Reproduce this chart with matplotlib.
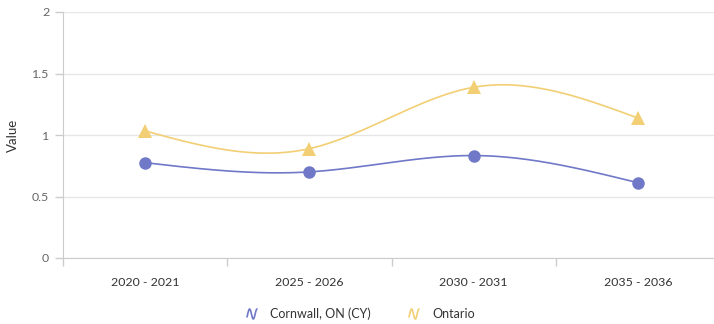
import matplotlib
matplotlib.use("Agg")
import matplotlib.pyplot as plt
import numpy as np

plt.rcParams['font.family'] = ['Lato', 'DejaVu Sans']

categories = ["2020 - 2021", "2025 - 2026", "2030 - 2031", "2035 - 2036"]
cornwall = [0.775, 0.70, 0.833, 0.612]
ontario = [1.033, 0.889, 1.388, 1.138]
series_names = ["Cornwall, ON (CY)", "Ontario"]
colors = ["#7078c8", "#f2cf74"]
yticks = [0, 0.5, 1, 1.5, 2]
yticklabels = ["0", "0.5", "1", "1.5", "2"]


def natural_spline(xs, ys, num=60):
    xs = np.asarray(xs, float)
    ys = np.asarray(ys, float)
    n = len(xs)
    h = np.diff(xs)
    A = np.zeros((n, n))
    b = np.zeros(n)
    A[0, 0] = 1
    A[-1, -1] = 1
    for i in range(1, n - 1):
        A[i, i - 1] = h[i - 1]
        A[i, i] = 2 * (h[i - 1] + h[i])
        A[i, i + 1] = h[i]
        b[i] = 6 * ((ys[i + 1] - ys[i]) / h[i] - (ys[i] - ys[i - 1]) / h[i - 1])
    M = np.linalg.solve(A, b)
    outx, outy = [], []
    for i in range(n - 1):
        t = np.linspace(xs[i], xs[i + 1], num)
        a = xs[i + 1] - t
        c = t - xs[i]
        hi = h[i]
        s = (M[i] * a ** 3 / (6 * hi) + M[i + 1] * c ** 3 / (6 * hi)
             + (ys[i] / hi - M[i] * hi / 6) * a + (ys[i + 1] / hi - M[i + 1] * hi / 6) * c)
        outx.extend(t)
        outy.extend(s)
    return np.array(outx), np.array(outy)


fig = plt.figure(figsize=(7.14, 3.24), dpi=100)
ax = fig.add_axes([63 / 714, 66 / 324, 657 / 714, 246 / 324])
ax.set_xlim(-0.5, 3.5)
ax.set_ylim(0, 2)

x = np.arange(len(categories))
for vals, col, mk, ms in [(cornwall, colors[0], 'o', 9), (ontario, colors[1], '^', 10)]:
    sx, sy = natural_spline(x, vals)
    ax.plot(sx, sy, color=col, lw=1.2, zorder=3, solid_capstyle='round')
    ax.plot(x, vals, linestyle='none', marker=mk, color=col, markersize=ms, zorder=4,
            markeredgewidth=0)

ax.set_yticks(yticks)
ax.set_yticklabels(yticklabels)
ax.grid(axis='y', color='#e6e6e6', lw=1)
ax.set_axisbelow(True)
ax.set_xticks(x)
ax.set_xticklabels(categories)
ax.set_xticks(np.arange(-0.5, 4, 1), minor=True)
ax.tick_params(axis='x', which='major', length=0, pad=14, labelsize=8.9, labelcolor='#333333')
ax.tick_params(axis='x', which='minor', length=6, color='#cccccc', width=1)
ax.tick_params(axis='y', length=6, color='#cccccc', width=1, labelsize=8.9,
               labelcolor='#666666', pad=4)
for s in ['top', 'right']:
    ax.spines[s].set_visible(False)
ax.spines['left'].set_color('#cccccc')
ax.spines['bottom'].set_color('#cccccc')
ax.set_ylabel("Value", fontsize=9.5, color='#333333', labelpad=9)


def legend_icon(x0, y0, col):
    th = np.linspace(0.3 * np.pi, 3.0 * np.pi, 40)
    t = (th - th[0]) / (th[-1] - th[0])
    xs = x0 + t * 10
    ys = y0 + 5 * np.cos(th)
    fig.add_artist(plt.Line2D(xs / 714, 1 - ys / 324, color=col, lw=1.2,
                              solid_capstyle='round'))


legend_icon(247, 314, colors[0])
fig.text(270 / 714, 1 - 314 / 324, series_names[0], fontsize=9, color='#333333',
         va='center', ha='left')
legend_icon(409, 314, colors[1])
fig.text(432 / 714, 1 - 314 / 324, series_names[1], fontsize=9, color='#333333',
         va='center', ha='left')

fig.savefig("out.png", dpi=100)
